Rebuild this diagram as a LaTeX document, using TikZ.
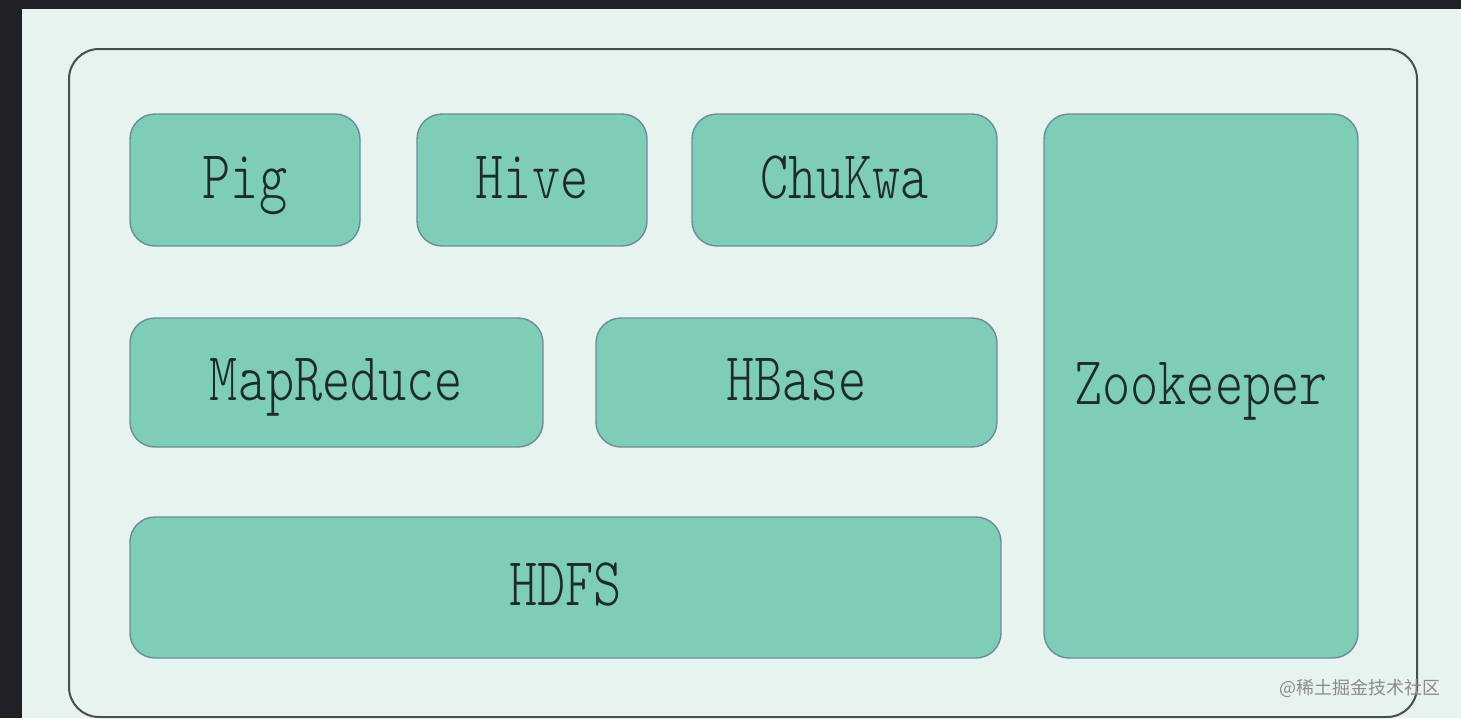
\documentclass[tikz,border=0pt]{standalone}
\usepackage{fontspec}
\usepackage{graphicx}
\newfontfamily\wmfont{Noto Sans CJK SC}
\newfontfamily\compfont{Latin Modern Mono Light}
\definecolor{bg}{HTML}{E7F3EF}
\definecolor{darkstrip}{HTML}{202124}
\definecolor{boxfill}{HTML}{7ECDB6}
\definecolor{boxline}{HTML}{6C8C9E}
\definecolor{framecol}{HTML}{454F4D}
\definecolor{txt}{HTML}{1E2B2A}
\definecolor{wmcol}{HTML}{8C8C8C}
\newcommand\complabel[1]{\scalebox{0.78}[1]{\compfont\fontsize{68.7}{80}\selectfont #1}}
\begin{document}
\begin{tikzpicture}[x=1pt,y=-1pt,
  comp/.style={draw=boxline, line width=1.4pt, fill=boxfill, rounded corners=25pt,
    text=txt, text height=36pt, text depth=0pt, inner sep=0pt},
  frame/.style={draw=framecol, line width=2pt, rounded corners=30pt}]
\useasboundingbox (0,0) rectangle (1461,718);
\fill[darkstrip] (0,0) rectangle (1461,718);
\fill[bg] (22,9) rectangle (1461,718);
\draw[frame] (69,49) rectangle (1417,717);
\node[comp, minimum width=230pt, minimum height=132pt] (pig) at (245,180) {\complabel{Pig}};
\node[comp, minimum width=230pt, minimum height=132pt] (hive) at (532,180) {\complabel{Hive}};
\node[comp, minimum width=305pt, minimum height=132pt] (chukwa) at (844.5,180) {\complabel{ChuKwa}};
\node[comp, minimum width=413pt, minimum height=129pt] (mapreduce) at (336.5,382.5) {\complabel{MapReduce}};
\node[comp, minimum width=401pt, minimum height=129pt] (hbase) at (796.5,382.5) {\complabel{HBase}};
\node[comp, minimum width=871pt, minimum height=141pt] (hdfs) at (565.5,587.5) {\complabel{HDFS}};
\node[comp, minimum width=314pt, minimum height=544pt] (zookeeper) at (1201,386) {\complabel{Zookeeper}};
\node[text=wmcol, inner sep=0pt] (wm) at (1360,688) {\wmfont\fontsize{18}{20}\selectfont @稀土掘金技术社区};
\end{tikzpicture}
\end{document}
